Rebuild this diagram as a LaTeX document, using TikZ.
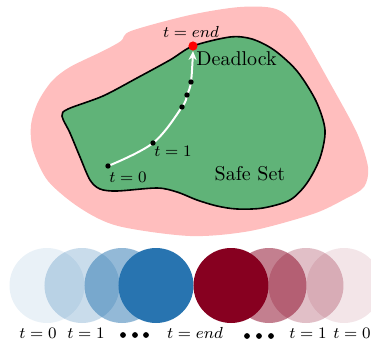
\documentclass[tikz,border=0pt]{standalone}
\usetikzlibrary{arrows.meta}
\definecolor{pinkset}{RGB}{255,190,190}
\definecolor{greenset}{RGB}{96,179,120}
\definecolor{bluec}{RGB}{40,116,176}
\definecolor{redc}{RGB}{135,0,32}
\tikzset{
  tlab/.style={font=\fontsize{7.8}{9}\selectfont, inner sep=0pt},
  bigdot/.style={circle, fill=black, inner sep=0pt, minimum size=2.7pt},
  disc/.style={circle, inner sep=0pt, minimum size=37.5pt, draw=none},
  smalldot/.style={circle, fill=black, inner sep=0pt, minimum size=2.9pt},
}
\begin{document}
\begin{tikzpicture}[x=0.5pt, y=-0.5pt]
\useasboundingbox (0,0) rectangle (371,343);
\clip (0,0) rectangle (371,343);
% unsafe region
\fill[pinkset] plot[smooth cycle, tension=0.5] coordinates {
 (131,31) (190,15) (240,7) (276,9) (298,28) (330,83) (357,133) (368,167) (364,187)
 (345,199) (313,214) (250,231) (190,236) (118,226) (80,208) (48,181) (33,150) (31,125)
 (38,102) (52,81) (70,67) (103,51) (121,41)};
% safe set
\filldraw[fill=greenset, draw=black, line width=0.8pt] plot[smooth cycle, tension=0.5] coordinates {
 (62,116) (68,109) (103,96) (137,78) (170,60) (193,46) (230,37) (252,39) (274,50) (297,71) (316,101)
 (325,130) (320,158) (307,183) (290,200) (263,208) (237,209) (217,206) (197,200) (177,192)
 (157,188) (117,191) (100,189) (90,180) (80,157) (70,133)};
% trajectory
\coordinate (p0) at (108,166);
\coordinate (p1) at (153,143);
\coordinate (p2) at (182,107);
\coordinate (p3) at (187,95);
\coordinate (p4) at (191,82);
\node[circle, fill=red, inner sep=0pt, minimum size=4.6pt] (dl) at (193,46) {};
\coordinate (tip) at (193,51);
\draw[white, line width=1pt, -{Stealth[length=4.5pt, width=4pt]}]
  plot[smooth, tension=0.6] coordinates {(p0) (p1) (p2) (p3) (p4) (tip)};
\foreach \p in {p0,p1,p2,p3,p4} \node[bigdot] (d\p) at (\p) {};
\node[tlab] (lend) at (191,32) {$t=end$};
\node[anchor=west, inner sep=0pt] (ldl) at (196,59) {Deadlock};
\node[tlab] (l1) at (173,151) {$t=1$};
\node[tlab] (l0) at (128,177) {$t=0$};
\node[inner sep=0pt] (safe) at (250,174) {Safe Set};
% bottom row of discs
\node[disc, fill=bluec, fill opacity=0.1] (b0) at (47,285.5) {};
\node[disc, fill=bluec, fill opacity=0.25] (b1) at (82,285.5) {};
\node[disc, fill=bluec, fill opacity=0.5] (b2) at (122,285.5) {};
\node[disc, fill=bluec] (b3) at (156,285.5) {};
\node[disc, fill=redc] (r3) at (231,285.5) {};
\node[disc, fill=redc, fill opacity=0.5] (r2) at (269,285.5) {};
\node[disc, fill=redc, fill opacity=0.25] (r1) at (306,285.5) {};
\node[disc, fill=redc, fill opacity=0.1] (r0) at (344,285.5) {};
% labels
\node[tlab] (bl0) at (38,333) {$t=0$};
\node[tlab] (bl1) at (86,333) {$t=1$};
\node[smalldot] (bd1) at (123,335) {};
\node[smalldot] (bd2) at (135,335) {};
\node[smalldot] (bd3) at (146,335) {};
\node[tlab] (blend) at (195,333) {$t=end$};
\node[smalldot] (rd1) at (247,336) {};
\node[smalldot] (rd2) at (259,336) {};
\node[smalldot] (rd3) at (271,336) {};
\node[tlab] (rl1) at (308,333) {$t=1$};
\node[tlab] (rl0) at (352,333) {$t=0$};
\end{tikzpicture}
\end{document}
